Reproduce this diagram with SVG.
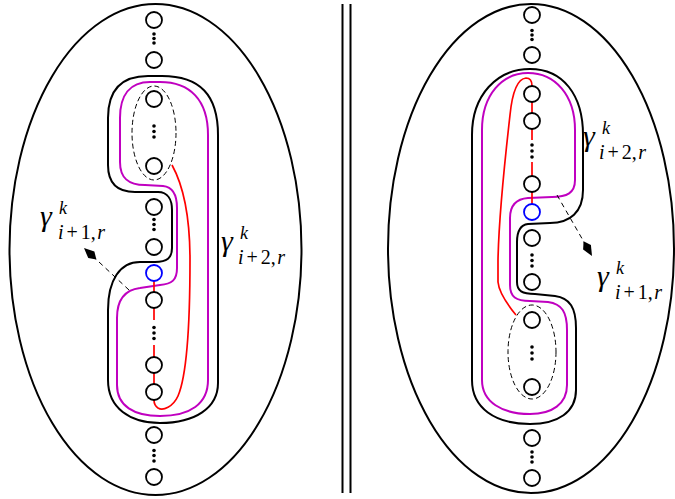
<svg xmlns="http://www.w3.org/2000/svg" width="675" height="499" viewBox="0 0 675 499">
<style>
.bd{fill:none;stroke:#000;stroke-width:2}
.mg{fill:none;stroke:#c000c0;stroke-width:2}
.rd{fill:none;stroke:#f00;stroke-width:1.7}
.pt{fill:#fff;stroke:#000;stroke-width:1.8}
.bl{stroke:#00f}
.dt{fill:#000}
.de{fill:none;stroke:#000;stroke-width:1;stroke-dasharray:5 3}
.ar{fill:none;stroke:#000;stroke-width:1;stroke-dasharray:5 4}
</style>
<defs>
<marker id="ah" markerUnits="userSpaceOnUse" markerWidth="22" markerHeight="12" viewBox="-18 -6 19 12" refX="0" refY="0" orient="auto">
<path d="M0,0 L-10,-4.5 L-17,0 L-10,4.5 Z" fill="#000"/>
</marker>
</defs>
<g id="separator">
<line x1="342.5" y1="4" x2="342.5" y2="493" class="bd"/>
<line x1="350.5" y1="4" x2="350.5" y2="493" class="bd"/>
</g>
<g id="left-boundary"><ellipse cx="155.5" cy="249.5" rx="146" ry="245.5" class="bd"/></g>
<g id="right-boundary"><ellipse cx="531" cy="248.5" rx="143" ry="244.5" class="bd"/></g>
<g id="connectors">
<path id="left-black" class="bd" d="M218 383 L218 135 C218 95 200 76 162 76 L148 76 C120 76 108 92 108 118 L108 165 C108 182 116 192 135 192 L158 192 C168 192 172 200 172 210 L172 248 C172 258 167 262 155 262 L140 262 C120 262 108 280 108 310 L108 380 C108 408 130 423 160 423 C195 423 218 408 218 383 Z"/>
<path id="left-magenta" class="mg" d="M208 380 L208 135 C208 100 190 82 160 82 L150 82 C130 82 120 95 120 118 L120 162 C120 178 128 185 145 185 L163 186 C173 187 177 196 177 208 L177 268 C177 280 172 284 160 285 L140 288 C124 290 117 300 117 318 L117 385 C117 406 134 416 160 416 C190 416 208 404 208 380 Z"/>
<path id="left-red" class="rd" d="M172 165 C183 185 190 215 190 260 C190 320 187 375 178 396 C173 407 163 411 158 408 C155 406 154 403 154 400 M154 281 L154 292 M154 308 L154 320 M154 345 L154 357 M154 373 L154 384"/>
<path id="right-black" class="bd" d="M472 380 L472 135 C472 95 497 69 530 69 C563 69 583 95 583 135 L583 190 C583 212 570 223 550 223 L528 224 C520 225 517 232 517 242 L517 282 C517 291 522 294 535 294 L555 296 C570 298 576 308 576 328 L576 390 C576 412 558 424 530 424 C495 424 472 408 472 380 Z"/>
<path id="right-magenta" class="mg" d="M482 380 L482 130 C482 95 502 73 528 73 C555 73 575 95 575 130 L575 180 C575 193 567 197 552 197 L528 198 C515 199 510 206 510 218 L510 285 C510 297 516 301 530 301 L548 302 C562 304 567 312 567 330 L567 385 C567 404 552 414 530 414 C502 414 482 402 482 380 Z"/>
<path id="right-red" class="rd" d="M532 86 C532 80 529 78 526 78 C516 79 512 95 510 115 C505 160 499 210 498 260 L498 282 C499 293 507 304 516 315 M532 102 L532 113 M532 129 L532 140 M532 162 L532 176 M532 192 L532 204"/>
<ellipse id="left-dashed" class="de" cx="154" cy="133" rx="22" ry="47"/>
<ellipse id="right-dashed" class="de" cx="532" cy="352" rx="24" ry="47"/>
<path id="left-arrow" class="ar" d="M129 290 L84 248" marker-end="url(#ah)"/>
<path id="right-arrow" class="ar" d="M557 195 L592 256" marker-end="url(#ah)"/>
</g>
<g id="left-punctures">
<g id="L1"><circle cx="154" cy="20" r="8" class="pt"/></g>
<g id="L2"><circle cx="154" cy="60" r="8" class="pt"/></g>
<g id="L3"><circle cx="154" cy="99" r="8" class="pt"/></g>
<g id="L4"><circle cx="154" cy="166" r="8" class="pt"/></g>
<g id="L5"><circle cx="154" cy="207" r="8" class="pt"/></g>
<g id="L6"><circle cx="154" cy="247" r="8" class="pt"/></g>
<g id="L7"><circle cx="154" cy="273" r="8" class="pt bl"/></g>
<g id="L8"><circle cx="154" cy="300" r="8" class="pt"/></g>
<g id="L9"><circle cx="154" cy="365" r="8" class="pt"/></g>
<g id="L10"><circle cx="154" cy="392" r="8" class="pt"/></g>
<g id="L11"><circle cx="154" cy="435" r="8" class="pt"/></g>
<g id="L12"><circle cx="154" cy="477" r="8" class="pt"/></g>
</g>
<g id="right-punctures">
<g id="R1"><circle cx="532" cy="15" r="8" class="pt"/></g>
<g id="R2"><circle cx="532" cy="55" r="8" class="pt"/></g>
<g id="R3"><circle cx="532" cy="94" r="8" class="pt"/></g>
<g id="R4"><circle cx="532" cy="121" r="8" class="pt"/></g>
<g id="R5"><circle cx="532" cy="184" r="8" class="pt"/></g>
<g id="R6"><circle cx="532" cy="212" r="8" class="pt bl"/></g>
<g id="R7"><circle cx="532" cy="238" r="8" class="pt"/></g>
<g id="R8"><circle cx="532" cy="282" r="8" class="pt"/></g>
<g id="R9"><circle cx="532" cy="320" r="8" class="pt"/></g>
<g id="R10"><circle cx="532" cy="387" r="8" class="pt"/></g>
<g id="R11"><circle cx="532" cy="438" r="8" class="pt"/></g>
<g id="R12"><circle cx="532" cy="478" r="8" class="pt"/></g>
</g>
<g id="dots" class="dt">
<circle cx="154" cy="34" r="1.8"/><circle cx="154" cy="38.5" r="1.8"/><circle cx="154" cy="43" r="1.8"/>
<circle cx="154" cy="126" r="1.8"/><circle cx="154" cy="131.5" r="1.8"/><circle cx="154" cy="137" r="1.8"/>
<circle cx="154" cy="219.5" r="1.8"/><circle cx="154" cy="224.5" r="1.8"/><circle cx="154" cy="229.5" r="1.8"/>
<circle cx="154" cy="327.5" r="1.8"/><circle cx="154" cy="333" r="1.8"/><circle cx="154" cy="338.5" r="1.8"/>
<circle cx="154" cy="450.5" r="1.8"/><circle cx="154" cy="455.5" r="1.8"/><circle cx="154" cy="461" r="1.8"/>
<circle cx="532" cy="30.5" r="1.8"/><circle cx="532" cy="35" r="1.8"/><circle cx="532" cy="39.5" r="1.8"/>
<circle cx="532" cy="145" r="1.8"/><circle cx="532" cy="151" r="1.8"/><circle cx="532" cy="157" r="1.8"/>
<circle cx="532" cy="255" r="1.8"/><circle cx="532" cy="260.5" r="1.8"/><circle cx="532" cy="266" r="1.8"/>
<circle cx="532" cy="347" r="1.8"/><circle cx="532" cy="353" r="1.8"/><circle cx="532" cy="359" r="1.8"/>
<circle cx="532" cy="452" r="1.8"/><circle cx="532" cy="457" r="1.8"/><circle cx="532" cy="462" r="1.8"/>
</g>
<g id="label-left-i1" font-family="'Liberation Serif', serif" fill="#000">
<text x="40" y="226" font-size="30" font-style="italic">γ</text>
<text x="59" y="214" font-size="18" font-style="italic">k</text>
<text x="58" y="239" font-size="20"><tspan font-style="italic">i</tspan><tspan dx="3">+</tspan><tspan dx="3">1,</tspan><tspan font-style="italic" dx="1.5">r</tspan></text>
</g>
<g id="label-left-i2" font-family="'Liberation Serif', serif" fill="#000">
<text x="221" y="251" font-size="30" font-style="italic">γ</text>
<text x="240" y="239" font-size="18" font-style="italic">k</text>
<text x="238" y="264" font-size="20"><tspan font-style="italic">i</tspan><tspan dx="3">+</tspan><tspan dx="3">2,</tspan><tspan font-style="italic" dx="1.5">r</tspan></text>
</g>
<g id="label-right-i2" font-family="'Liberation Serif', serif" fill="#000">
<text x="583" y="146" font-size="30" font-style="italic">γ</text>
<text x="602" y="134" font-size="18" font-style="italic">k</text>
<text x="599" y="159" font-size="20"><tspan font-style="italic">i</tspan><tspan dx="3">+</tspan><tspan dx="3">2,</tspan><tspan font-style="italic" dx="1.5">r</tspan></text>
</g>
<g id="label-right-i1" font-family="'Liberation Serif', serif" fill="#000">
<text x="597" y="286" font-size="30" font-style="italic">γ</text>
<text x="616" y="274" font-size="18" font-style="italic">k</text>
<text x="615" y="299" font-size="20"><tspan font-style="italic">i</tspan><tspan dx="3">+</tspan><tspan dx="3">1,</tspan><tspan font-style="italic" dx="1.5">r</tspan></text>
</g>
</svg>
